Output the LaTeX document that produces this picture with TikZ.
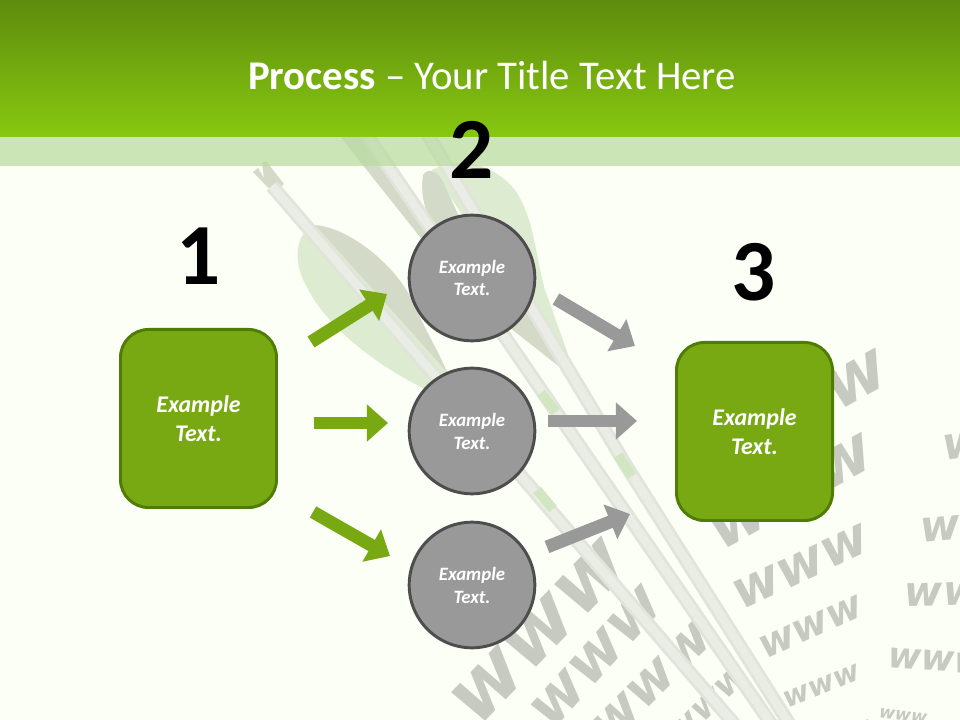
\documentclass[tikz,border=0pt]{standalone}
\usepackage{fontspec}
\setmainfont{Carlito}
\newfontfamily\wwwfont{DejaVu Sans}
\usetikzlibrary{arrows.meta, positioning}

\definecolor{pagebg}{HTML}{FBFFF5}
\definecolor{headtop}{HTML}{5E8C0E}
\definecolor{headbot}{HTML}{88C810}
\definecolor{bandc}{HTML}{B9DB9E}
\definecolor{boxfill}{HTML}{78A913}
\definecolor{boxedge}{HTML}{4F7C05}
\definecolor{circfill}{HTML}{999999}
\definecolor{circedge}{HTML}{4D4D4D}
\definecolor{wwwgray}{HTML}{C6CAC0}
\definecolor{featherdark}{HTML}{D3DBC8}
\definecolor{featherlight}{HTML}{DDEBD0}
\definecolor{shaftedge}{HTML}{E0E4DA}
\definecolor{shaftlight}{HTML}{EAEDE5}
\definecolor{ringgreen}{HTML}{D3E6C2}

\tikzset{
  stepbox/.style={draw=boxedge,fill=boxfill,line width=2.1pt,rounded corners=0.7cm,minimum width=3.9cm,minimum height=4.45cm,text=white,align=center,font=\fontsize{17}{21}\selectfont\bfseries\itshape},
  stepcirc/.style={circle,draw=circedge,fill=circfill,line width=2.1pt,minimum size=3.14cm,inner sep=0pt,text=white,align=center,font=\fontsize{13.4}{16.3}\selectfont\bfseries\itshape},
  stepnum/.style={font=\fontsize{62}{62}\selectfont\bfseries,text=black},
  greenarrow/.style={-{Triangle[length=15pt,width=25.6pt]},line width=9.2pt,draw=boxfill},
  grayarrow/.style={-{Triangle[length=15pt,width=25.6pt]},line width=9.2pt,draw=circfill},
  shaft/.style={draw=shaftedge,double=shaftlight,double distance=6pt,line width=2pt},
  ring/.style={draw=ringgreen,line width=7pt}
}

\begin{document}
\begin{tikzpicture}[x=0.025cm,y=-0.025cm]
  \useasboundingbox (0,0) rectangle (960,720);
  \fill[pagebg] (0,0) rectangle (960,720);

  \begin{scope}
    \clip (0,0) rectangle (960,720);
    % www pattern
    \foreach \px/\py/\rot/\len [count=\i] in {
        540/632/46/224, 597/657/48/170, 652/683/45/150, 708/705/45/100,
        802/410/29/190, 792/492/29/180, 801/567/25/145, 811/627/24/110, 822/686/22/80, 838/738/20/70,
        1005/440/8/125, 980/525/5/120, 962/594/1/115, 938/661/-4/100, 903/716/-8/48}
      {
      \pgfmathsetmacro\wsize{\len*0.257}
      \node[wwwgray,inner sep=0pt,rotate=\rot] (www\i) at (\px,\py)
        {\fontsize{\wsize}{\wsize}\wwwfont\bfseries\itshape www};
      }

    % Feathers
    \fill[featherlight] (315,225) .. controls (295,232) and (292,262) .. (307,287) .. controls (325,325) and (375,365) .. (427,390) -- (447,372) -- cycle;
    \fill[featherdark] (315,225) .. controls (350,228) and (395,265) .. (412,300) .. controls (425,330) and (438,350) .. (447,372) -- cycle;
    \fill[featherlight] (432,170) .. controls (460,155) and (495,165) .. (515,190) .. controls (535,220) and (535,255) .. (545,290) -- (570,360) -- (520,300) -- cycle;
    \fill[featherdark] (335,130) -- (363,130) -- (440,235) -- (530,310) -- (566,372) -- (500,320) -- (420,237) -- cycle;
    \fill[featherdark] (423,175) .. controls (428,168) and (436,170) .. (442,180) -- (470,240) -- (440,240) .. controls (425,215) and (420,195) .. (423,175) -- cycle;

    % Arrow shafts
    \coordinate (shaftAtop) at (272,186);
    \coordinate (shaftAbot) at (735,725);
    \coordinate (shaftBtop) at (363,130);
    \coordinate (shaftBmid) at (557,413);
    \coordinate (shaftBbot) at (772,725);
    \coordinate (shaftCtop) at (425,130);
    \coordinate (shaftCmid) at (627,467);
    \coordinate (shaftCbot) at (790,725);
    \fill[featherdark] (253,172) -- (258,168) -- (264,178) -- (262,163) -- (266,161) -- (284,184) -- (274,194) -- cycle;
    \draw[shaft] (shaftAtop) -- (shaftAbot);
    \draw[shaft] (shaftBtop) -- (shaftBmid) -- (shaftBbot);
    \draw[shaft] (shaftCtop) -- (shaftCmid) -- (shaftCbot);
    \coordinate (ringAa) at (537,490);
    \coordinate (ringAb) at (553,509);
    \coordinate (ringBa) at (541,393);
    \coordinate (ringBb) at (556,412);
    \coordinate (ringCa) at (618,455);
    \coordinate (ringCb) at (632,476);
    \draw[ring] (ringAa) -- (ringAb);
    \draw[ring] (ringBa) -- (ringBb);
    \draw[ring] (ringCa) -- (ringCb);
  \end{scope}

  % Header
  \fill[bandc,opacity=0.7] (0,137) rectangle (960,166);
  \shade[top color=headtop,bottom color=headbot] (0,0) rectangle (960,137);
  \node[text=white,font=\fontsize{29}{33}\selectfont] (title) at (492,75) {\textbf{Process} -- Your Title Text Here};

  % Numbers
  \node[stepnum] (num1) at (199,256) {1};
  \node[stepnum] (num2) at (472,150) {2};
  \node[stepnum] (num3) at (754,272) {3};

  % Steps
  \node[stepbox] (box1) at (198.5,418.5) {Example\\Text.};
  \node[stepbox] (box3) at (754.5,431.5) {Example\\Text.};
  \node[stepcirc] (circ1) at (472,278) {Example\\Text.};
  \node[stepcirc] (circ2) at (472,431) {Example\\Text.};
  \node[stepcirc] (circ3) at (472,585) {Example\\Text.};

  % Green arrows
  \coordinate (g1a) at (311,342);
  \coordinate (g1b) at (387,294);
  \coordinate (g2a) at (314,423);
  \coordinate (g2b) at (388,423);
  \coordinate (g3a) at (313,512);
  \coordinate (g3b) at (390,556);
  \draw[greenarrow] (g1a) -- (g1b);
  \draw[greenarrow] (g2a) -- (g2b);
  \draw[greenarrow] (g3a) -- (g3b);

  % Gray arrows
  \coordinate (k1a) at (556,299);
  \coordinate (k1b) at (635,346);
  \coordinate (k2a) at (548,421);
  \coordinate (k2b) at (637,421);
  \coordinate (k3a) at (547,547);
  \coordinate (k3b) at (630,514);
  \draw[grayarrow] (k1a) -- (k1b);
  \draw[grayarrow] (k2a) -- (k2b);
  \draw[grayarrow] (k3a) -- (k3b);
\end{tikzpicture}
\end{document}
